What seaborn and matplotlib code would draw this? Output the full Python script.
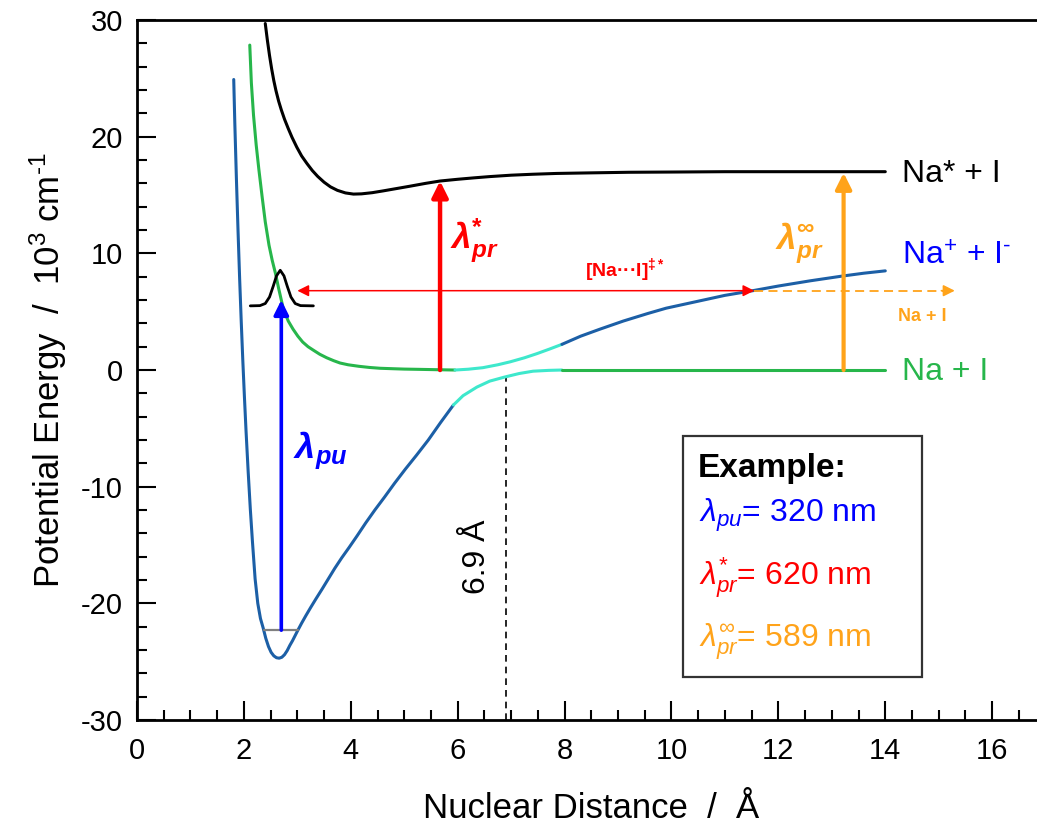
import numpy as np
import pandas as pd
import matplotlib
matplotlib.use("Agg")
import matplotlib.pyplot as plt
import seaborn as sns
from matplotlib.patches import Rectangle
from matplotlib.ticker import MultipleLocator

# ---------------- data ----------------
# lower adiabatic curve: ionic well (blue) -> avoided crossing (cyan) -> covalent (green)
ionic_well_x = [1.81, 1.83, 1.86, 1.89, 1.92, 1.95, 1.98, 2.01, 2.04, 2.08, 2.12, 2.16, 2.21,
                2.26, 2.31, 2.36, 2.41, 2.46, 2.51, 2.56, 2.61, 2.66, 2.71, 2.76, 2.81, 2.86,
                2.91, 2.96, 3.01, 3.08, 3.16, 3.25, 3.35, 3.46, 3.58, 3.70, 3.83, 3.97, 4.12,
                4.28, 4.45, 4.63, 4.82, 5.02, 5.23, 5.45, 5.68, 5.92]
ionic_well_y = [24.9, 21.2, 16.4, 12.0, 7.9, 4.2, 0.8, -2.3, -5.2, -8.7, -11.9, -14.7, -17.9,
                -20.0, -21.3, -22.1, -23.0, -23.7, -24.2, -24.5, -24.66, -24.7, -24.62, -24.4,
                -24.05, -23.6, -23.2, -22.75, -22.3, -21.7, -21.05, -20.35, -19.6, -18.8, -17.9,
                -17.0, -16.1, -15.2, -14.2, -13.1, -12.0, -10.9, -9.7, -8.5, -7.3, -6.0, -4.5,
                -3.0]
lower_cross_x = [5.92, 6.10, 6.36, 6.60, 6.88, 7.15, 7.41, 7.70, 7.95]
lower_cross_y = [-3.0, -2.2, -1.46, -0.95, -0.6, -0.3, -0.1, -0.03, 0.0]
covalent_flat_x = [7.95, 14.0]
covalent_flat_y = [0.0, 0.0]

# upper adiabatic curve: covalent wall (green) -> avoided crossing (cyan) -> ionic (blue)
covalent_wall_x = [2.11, 2.14, 2.18, 2.23, 2.28, 2.34, 2.40, 2.47, 2.53, 2.59, 2.65, 2.70,
                   2.74, 2.83, 2.92, 3.01, 3.10, 3.20, 3.30, 3.42, 3.55, 3.68, 3.80, 3.95,
                   4.15, 4.35, 4.55, 4.80, 5.00, 5.25, 5.48, 5.70, 5.95]
covalent_wall_y = [27.85, 24.6, 21.85, 19.3, 17.2, 14.9, 12.7, 10.7, 9.4, 8.3, 7.0, 6.0,
                   5.2, 4.2, 3.5, 2.9, 2.4, 2.0, 1.7, 1.35, 1.05, 0.8, 0.6, 0.45,
                   0.32, 0.22, 0.15, 0.11, 0.08, 0.06, 0.04, 0.02, 0.0]
upper_cross_x = [5.95, 6.20, 6.47, 6.75, 6.98, 7.25, 7.48, 7.72, 7.95]
upper_cross_y = [0.0, 0.07, 0.2, 0.45, 0.7, 1.05, 1.4, 1.8, 2.2]
ionic_tail_x = [7.95, 8.30, 8.66, 9.10, 9.56, 9.90, 10.5, 11.0, 11.52, 12.0, 12.6, 13.19, 13.6, 14.0]
ionic_tail_y = [2.2, 2.9, 3.5, 4.2, 4.85, 5.3, 5.9, 6.4, 6.8, 7.2, 7.65, 8.05, 8.3, 8.5]

# excited state Na* + I (black)
excited_x = [2.40, 2.44, 2.48, 2.52, 2.56, 2.60, 2.65, 2.70, 2.76, 2.83, 2.90, 2.99, 3.08,
             3.18, 3.28, 3.38, 3.50, 3.62, 3.75, 3.90, 4.05, 4.20, 4.40, 4.60, 4.85, 5.10,
             5.40, 5.67, 6.00, 6.30, 6.60, 7.00, 7.40, 7.85, 8.50, 9.20, 10.0, 11.0, 12.0,
             13.0, 14.0]
excited_y = [29.7, 28.25, 26.95, 25.8, 24.8, 23.95, 23.05, 22.3, 21.5, 20.7, 19.95, 19.1, 18.35,
             17.7, 17.1, 16.6, 16.1, 15.7, 15.4, 15.18, 15.08, 15.1, 15.2, 15.35, 15.55, 15.75,
             16.0, 16.2, 16.35, 16.47, 16.58, 16.7, 16.78, 16.85, 16.9, 16.95, 16.97, 17.0,
             17.0, 17.0, 17.0]

# wave packet
packet_x = [2.12, 2.30, 2.40, 2.48, 2.55, 2.61, 2.68, 2.75, 2.81, 2.88, 2.96, 3.06, 3.30]
packet_y = [5.5, 5.52, 5.7, 6.26, 7.2, 8.07, 8.55, 8.07, 7.2, 6.26, 5.7, 5.52, 5.5]

# vibrational level
vib_x = [2.37, 3.01]
vib_y = [-22.3, -22.3]

# arrows: (x0, y0, x1, y1)
pump_arrow = (2.70, -22.3, 2.70, 6.0)
probe_star_arrow = (5.67, 0.0, 5.67, 16.2)
probe_inf_arrow = (13.22, 0.0, 13.22, 16.9)
wavepacket_span = (3.0, 6.8, 11.55, 6.8)
dissoc_span = (11.55, 6.8, 15.3, 6.8)
crossing_x = 6.9
crossing_top = -0.65

x_ticks = [0, 2, 4, 6, 8, 10, 12, 14, 16]
y_ticks = [-30, -20, -10, 0, 10, 20, 30]

# ---------------- colors ----------------
C_GREEN = "#27b64b"
C_DBLUE = "#1c5fa6"
C_CYAN = "#3ee8cc"
C_RED = "#ff0000"
C_BLUE = "#0000ff"
C_ORANGE = "#ffa31a"

sns.set_theme(style="ticks")
plt.rcParams["font.family"] = ["Liberation Sans", "DejaVu Sans"]
plt.rcParams["mathtext.fontset"] = "custom"
plt.rcParams["mathtext.rm"] = "Liberation Sans"
plt.rcParams["mathtext.it"] = "Liberation Sans:italic"
plt.rcParams["mathtext.bf"] = "Liberation Sans:bold"
plt.rcParams["mathtext.bfit"] = "Liberation Sans:bold:italic"
plt.rcParams["mathtext.sf"] = "Liberation Sans"
plt.rcParams["axes.unicode_minus"] = False
plt.rcParams["text.color"] = "black"
plt.rcParams["axes.labelcolor"] = "black"
plt.rcParams["xtick.color"] = "black"
plt.rcParams["ytick.color"] = "black"

fig = plt.figure(figsize=(10.37, 8.26), dpi=100)
ax = fig.add_axes([0.1321, 0.1283, 17 * 53.45 / 1037, 700 / 826])

LW = 2.2


def seg(xs, ys, color, lw=LW, **kw):
    df = pd.DataFrame({"x": xs, "y": ys})
    sns.lineplot(data=df, x="x", y="y", color=color, lw=lw, estimator=None,
                 sort=False, ax=ax, legend=False, **kw)


# potential curves
seg(ionic_well_x, ionic_well_y, C_DBLUE)
seg(lower_cross_x, lower_cross_y, C_CYAN)
seg(covalent_flat_x, covalent_flat_y, C_GREEN)
seg(covalent_wall_x, covalent_wall_y, C_GREEN)
seg(upper_cross_x, upper_cross_y, C_CYAN)
seg(ionic_tail_x, ionic_tail_y, C_DBLUE)
seg(excited_x, excited_y, "black")
seg(packet_x, packet_y, "black", lw=2.0)
seg(vib_x, vib_y, "#808080", lw=1.6)

# crossing marker
ax.plot([crossing_x, crossing_x], [-30, crossing_top], color="black", lw=1.2,
        ls=(0, (4, 3)), zorder=1)


def arrow(a, color, lw, ms, style="-|>"):
    x0, y0, x1, y1 = a
    ax.annotate("", xy=(x1, y1), xytext=(x0, y0),
                arrowprops=dict(arrowstyle=style, color=color, lw=lw,
                                mutation_scale=ms, shrinkA=0, shrinkB=0),
                zorder=4)


arrow(pump_arrow, C_BLUE, 2.6, 22)
arrow(probe_star_arrow, C_RED, 3.2, 24)
arrow(probe_inf_arrow, C_ORANGE, 3.0, 24)
arrow(wavepacket_span, C_RED, 1.1, 17, style="<|-|>")
# dashed continuation to Na + I
dx0, dy0, dx1, dy1 = dissoc_span
ax.plot([dx0, dx1 - 0.2], [dy0, dy1], color=C_ORANGE, lw=1.3, ls=(0, (5, 3)), zorder=3)
arrow((dx1 - 0.25, dy0, dx1, dy1), C_ORANGE, 1.2, 17)

# labels on the chart
ax.text(3.42, -6.9, r"$\mathbfit{\lambda}_{\mathbfit{pu}}$", color=C_BLUE, fontsize=26,
        ha="center", va="center")
ax.text(6.32, 11.0, r"$\mathbfit{\lambda}^{\mathbf{*}}_{\mathbfit{pr}}$", color=C_RED,
        fontsize=25, ha="center", va="center")
ax.text(12.4, 10.9, r"$\mathbfit{\lambda}^{\mathbf{\infty}}_{\mathbfit{pr}}$", color=C_ORANGE,
        fontsize=25, ha="center", va="center")
ax.text(9.14, 8.6, r"[Na···I]$^{\mathbf{‡*}}$", color=C_RED, fontsize=14,
        fontweight="bold", ha="center", va="center")
ax.text(14.7, 4.6, "Na + I", color=C_ORANGE, fontsize=13, fontweight="bold",
        ha="center", va="center")

ax.text(14.31, 16.1, "Na* + I", color="black", fontsize=23, ha="left", va="baseline")
ax.text(14.31, 9.0, "Na$^{+}$ + I$^{\u2010}$", color=C_BLUE, fontsize=23, ha="left",
        va="baseline")
ax.text(14.31, -0.86, "Na + I", color=C_GREEN, fontsize=23, ha="left", va="baseline")

ax.text(6.36, -16.0, "6.9 Å", rotation=90, fontsize=23, ha="center", va="center",
        color="black")

# example box
ax.add_patch(Rectangle((10.21, -26.3), 4.48, 20.64, fill=False, edgecolor="#333333",
                       lw=1.6, zorder=5))
ax.text(10.5, -9.14, "Example:", fontsize=24, fontweight="bold", color="black",
        ha="left", va="baseline", zorder=6)
ax.text(10.52, -13.0, r"$\lambda_{pu}$= 320 nm", fontsize=23, color=C_BLUE,
        ha="left", va="baseline", zorder=6)
ax.text(10.52, -18.4, r"$\lambda^{*}_{pr}$= 620 nm", fontsize=23, color=C_RED,
        ha="left", va="baseline", zorder=6)
ax.text(10.52, -23.7, r"$\lambda^{\infty}_{pr}$= 589 nm", fontsize=23, color=C_ORANGE,
        ha="left", va="baseline", zorder=6)

# axes styling
ax.set_xlim(0, 17)
ax.set_ylim(-30, 30)
ax.set_xticks(x_ticks)
ax.set_yticks(y_ticks)
ax.xaxis.set_minor_locator(MultipleLocator(0.5))
ax.yaxis.set_minor_locator(MultipleLocator(2))
ax.tick_params(which="both", direction="in", width=1.5, colors="black",
               top=False, right=False, labelsize=21)
ax.tick_params(axis="x", which="major", length=14, pad=12)
ax.tick_params(axis="y", which="major", length=14, pad=10)
ax.tick_params(which="minor", length=7)
for s in ax.spines.values():
    s.set_linewidth(2.0)
    s.set_color("black")
ax.set_xlabel("Nuclear Distance  /  Å", fontsize=25, labelpad=20)
ax.set_ylabel("Potential Energy  /  10$^{3}$ cm$^{\u20101}$", fontsize=25, labelpad=9)
ax.grid(False)

fig.savefig("out.png", dpi=100)
